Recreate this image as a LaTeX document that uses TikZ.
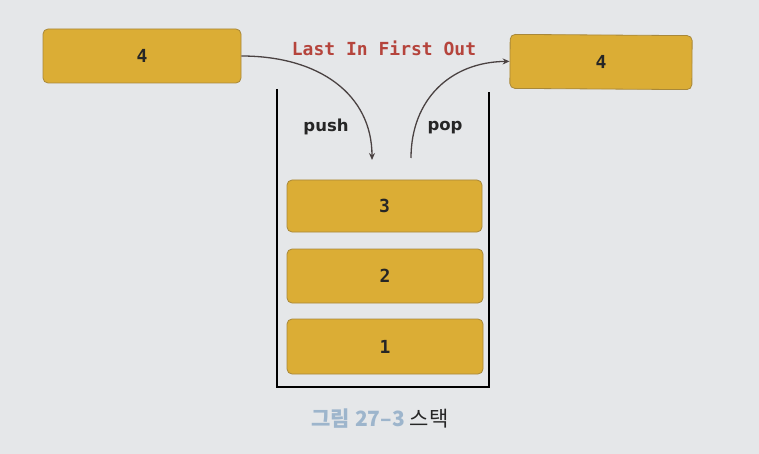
\documentclass[tikz,border=0pt]{standalone}
\usepackage{fontspec}
\setmainfont{DejaVu Sans}
\newfontfamily\monob{DejaVu Sans Mono}
\newfontfamily\cjkfont{Noto Sans CJK KR}
\usetikzlibrary{arrows.meta}
\definecolor{bg}{HTML}{E5E7E9}
\definecolor{gold}{HTML}{DBAD35}
\definecolor{goldedge}{HTML}{A8883A}
\definecolor{lifo}{HTML}{B5443C}
\definecolor{capblue}{HTML}{9DB5CC}
\definecolor{arr}{HTML}{4A4242}
\tikzset{
  item/.style={draw=goldedge, line width=0.8pt, fill=gold, rounded corners=5pt,
    font=\monob\bfseries\fontsize{18}{20}\selectfont, text=black!85},
  lbl/.style={font=\bfseries\fontsize{16.5}{18}\selectfont, text=black!85},
  flow/.style={draw=arr, line width=1.3pt, -{Stealth[length=7pt,width=6pt]}},
  wall/.style={draw=black, line width=1.6pt}
}
\begin{document}
\begin{tikzpicture}[x=1pt,y=-1pt]
\fill[bg] (0,0) rectangle (759,454);
\useasboundingbox (0,0) rectangle (759,454);
% stack container
\coordinate (tl) at (277,89);
\coordinate (bl) at (277,387);
\coordinate (br) at (489,387);
\coordinate (tr) at (489,92);
\draw[wall] (tl) -- (bl) -- (br) -- (tr);
% boxes
\node[item, minimum width=198pt, minimum height=54pt] (in4) at (142,56) {4};
\node[item, minimum width=182pt, minimum height=54pt, rotate=-0.4] (out4) at (601,62) {4};
\node[item, minimum width=195pt, minimum height=52pt] (b3) at (384.5,206) {3};
\node[item, minimum width=196pt, minimum height=54pt] (b2) at (385,276) {2};
\node[item, minimum width=196pt, minimum height=55pt] (b1) at (385,346.5) {1};
% labels
\node[font=\monob\bfseries\fontsize{18}{20}\selectfont, text=lifo] (lifo) at (384,48) {Last In First Out};
\node[lbl] (push) at (326,127) {push};
\node[lbl] (pop) at (445,128) {pop};
% arrows
\coordinate (pushend) at (372,160);
\coordinate (popstart) at (411,158);
\draw[flow] (in4.east) .. controls (320,56) and (372,95) .. (pushend);
\draw[flow] (popstart) .. controls (411,100) and (450,62) .. (out4.west);
% caption
\node[font=\cjkfont\fontsize{21}{24}\selectfont, anchor=center] (cap) at (380,419)
  {\textcolor{capblue}{\bfseries 그림 27–3}\ \textcolor{black!85}{스택}};
\end{tikzpicture}
\end{document}
